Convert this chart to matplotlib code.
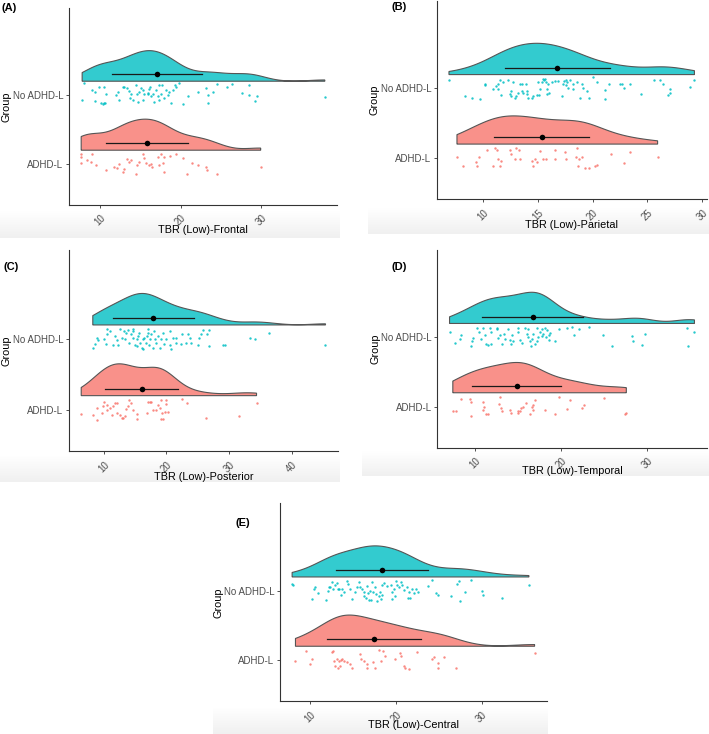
import numpy as np
import matplotlib
matplotlib.use("Agg")
import matplotlib.pyplot as plt
from matplotlib.colors import to_rgba, LinearSegmentedColormap
from matplotlib.ticker import MultipleLocator

plt.rcParams['font.family'] = ['Liberation Sans', 'DejaVu Sans']

groups = ['ADHD-L', 'No ADHD-L']

# (value, vertical jitter)
frontal_no = [(7.99, 0.17), (9.06, 0.07), (9.35, 0.05), (7.82, -0.07), (9.47, -0.09), (9.96, 0.11),
              (10.17, -0.11), (10.38, -0.13), (10.50, -0.12), (10.70, -0.12), (10.58, 0.11), (10.79, 0.01),
              (12.02, 0.0), (12.23, 0.05), (12.43, -0.07), (12.84, 0.12), (13.05, 0.12), (13.34, 0.10),
              (13.67, 0.06), (13.87, 0.02), (13.75, -0.05), (14.08, -0.07), (14.49, 0.14), (14.61, 0.02),
              (14.70, -0.10), (14.90, 0.05), (15.11, 0.10), (15.31, 0.07), (15.40, -0.07), (15.52, 0.02),
              (15.93, 0.03), (16.01, 0.01), (16.14, 0.08), (16.22, 0.12), (16.34, -0.02), (16.55, 0.02),
              (16.75, -0.10), (16.96, 0.07), (17.17, -0.02), (17.29, 0.14), (17.37, -0.07), (17.58, 0.02),
              (17.70, 0.14), (17.99, -0.05), (18.19, 0.07), (18.40, 0.0), (18.61, 0.05), (18.81, -0.12),
              (19.02, 0.07), (19.35, 0.14), (19.43, 0.12), (19.84, 0.17), (20.25, -0.13), (20.87, -0.02),
              (22.10, 0.05), (23.13, 0.10), (23.46, 0.0), (23.46, -0.11), (24.04, 0.05), (24.57, 0.16),
              (25.81, 0.12), (26.42, 0.16), (27.66, 0.03), (28.48, 0.14), (28.48, 0.0), (29.22, -0.09),
              (29.51, -0.02), (37.86, -0.03)]
frontal_adhd = [(7.70, 0.14), (7.70, 0.10), (7.70, 0.02), (8.40, 0.06), (9.05, 0.14), (8.93, 0.03),
                (9.55, -0.02), (10.78, -0.09), (11.81, -0.04), (12.10, -0.06), (12.35, 0.0), (12.92, -0.12),
                (13.05, -0.07), (13.33, 0.07), (13.66, 0.03), (13.91, 0.06), (14.49, -0.14), (14.57, -0.01),
                (14.81, 0.03), (15.39, 0.14), (15.51, 0.08), (15.72, 0.01), (16.05, -0.02), (16.34, 0.0),
                (16.46, -0.04), (17.16, 0.10), (17.28, -0.01), (17.57, 0.14), (17.78, 0.02), (17.98, 0.10),
                (17.98, -0.12), (18.72, 0.12), (19.42, 0.14), (20.25, 0.08), (20.86, -0.14), (21.48, 0.01),
                (22.22, -0.02), (23.13, -0.04), (23.33, -0.09), (24.57, -0.14), (29.92, -0.05)]

parietal_no = [(6.89, 0.12), (8.32, -0.11), (8.99, -0.13), (9.69, -0.15), (10.15, 0.07), (10.21, 0.05),
               (10.92, -0.01), (11.16, 0.04), (11.37, 0.06), (11.37, -0.01), (11.53, 0.12), (11.68, -0.10),
               (11.83, 0.09), (12.29, 0.12), (12.44, -0.08), (12.59, -0.11), (12.75, 0.09), (12.59, -0.03),
               (12.90, -0.13), (13.05, -0.11), (13.21, -0.06), (13.36, 0.07), (13.51, 0.07), (13.51, -0.03),
               (13.66, -0.06), (13.91, 0.06), (13.97, -0.03), (14.03, -0.08), (14.12, -0.13), (14.43, -0.13),
               (14.58, -0.11), (14.88, -0.09), (15.04, 0.09), (15.13, -0.09), (15.19, -0.01), (15.34, 0.09),
               (15.49, 0.14), (15.56, 0.12), (15.65, 0.14), (15.74, 0.09), (15.80, -0.01), (15.86, -0.08),
               (15.95, 0.07), (16.04, -0.06), (16.26, 0.10), (16.56, 0.11), (16.87, 0.11), (17.17, -0.11),
               (17.33, 0.07), (17.39, 0.11), (17.57, 0.12), (17.63, 0.09), (17.57, 0.05), (17.78, 0.01),
               (17.94, 0.12), (18.18, 0.07), (18.24, -0.01), (18.55, 0.09), (18.85, -0.13), (19.00, 0.06),
               (19.16, 0.01), (19.46, -0.04), (19.71, -0.13), (20.07, 0.16), (20.38, 0.09), (21.14, -0.02),
               (21.14, -0.15), (21.45, 0.06), (22.52, 0.06), (22.67, 0.07), (22.82, 0.01), (23.43, 0.07),
               (24.44, -0.08), (25.57, 0.12), (26.18, 0.12), (26.42, 0.07), (27.09, -0.01), (27.03, -0.06),
               (26.88, -0.10), (28.93, 0.02), (29.29, 0.12)]
parietal_adhd = [(7.62, 0.02), (8.17, -0.12), (9.39, -0.06), (9.45, -0.12), (9.63, 0.02), (10.40, 0.11),
                 (10.92, -0.11), (11.07, 0.14), (11.28, 0.11), (11.37, -0.01), (11.53, -0.11), (11.68, -0.04),
                 (12.44, 0.11), (12.59, 0.06), (12.90, -0.01), (13.05, 0.14), (13.30, 0.11), (13.36, -0.02),
                 (14.43, -0.05), (14.52, -0.12), (14.73, -0.02), (14.88, -0.06), (15.19, 0.10), (15.49, -0.02),
                 (15.74, -0.02), (16.56, 0.11), (16.56, -0.02), (17.48, 0.09), (17.57, -0.02), (18.55, 0.14),
                 (18.49, 0.02), (18.79, -0.01), (19.00, 0.01), (18.70, -0.12), (19.31, -0.14), (19.71, -0.15),
                 (20.23, -0.11), (20.38, -0.10), (21.66, 0.06), (22.82, -0.07), (23.43, 0.09), (25.93, 0.01)]

posterior_no = [(8.25, -0.12), (8.62, -0.07), (8.99, 0.01), (9.15, -0.02), (10.05, 0.0), (10.48, 0.07),
                (10.58, 0.14), (11.01, 0.12), (10.37, -0.07), (11.43, -0.09), (11.80, 0.05), (12.06, -0.02),
                (12.33, -0.09), (12.59, 0.14), (12.86, 0.02), (13.23, 0.12), (13.39, 0.0), (13.54, 0.09),
                (13.92, 0.13), (14.07, -0.05), (14.29, 0.07), (14.60, 0.14), (14.71, 0.12), (14.71, 0.02),
                (14.97, -0.08), (15.24, 0.0), (15.34, -0.10), (15.50, 0.05), (15.66, 0.09), (15.77, -0.05),
                (16.03, -0.12), (16.19, 0.0), (16.30, -0.14), (16.40, 0.02), (16.72, -0.05), (16.83, 0.05),
                (17.09, 0.09), (17.09, 0.14), (17.25, -0.08), (17.35, 0.0), (17.62, 0.07), (17.88, -0.12),
                (17.99, 0.12), (18.15, 0.0), (18.41, -0.05), (18.68, 0.05), (18.94, -0.13), (19.21, 0.0),
                (19.47, 0.08), (19.58, -0.07), (20.00, 0.0), (20.53, 0.12), (20.63, -0.09), (20.79, -0.14),
                (21.06, 0.01), (21.59, -0.05), (21.59, 0.02), (22.38, -0.07), (22.54, 0.07), (23.17, -0.06),
                (23.44, 0.07), (23.81, 0.01), (23.97, -0.05), (25.03, -0.09), (25.19, 0.02), (25.56, 0.07),
                (25.82, 0.13), (26.46, 0.07), (26.77, 0.13), (26.88, -0.10), (29.10, -0.08), (29.42, -0.08),
                (33.33, 0.02), (34.18, 0.0), (36.40, 0.08), (45.40, -0.08)]
posterior_adhd = [(6.40, -0.06), (8.36, -0.08), (8.89, 0.02), (8.89, -0.14), (9.68, -0.04), (9.95, 0.06),
                  (10.05, 0.11), (10.48, -0.01), (10.58, 0.07), (11.01, 0.03), (11.27, -0.08), (11.53, 0.06),
                  (11.80, 0.09), (12.06, 0.09), (12.17, -0.04), (12.59, -0.08), (12.86, -0.12), (13.12, -0.12),
                  (13.39, -0.09), (13.54, 0.01), (13.92, 0.06), (14.07, 0.14), (14.29, 0.09), (14.60, 0.0),
                  (15.24, -0.06), (15.34, -0.13), (16.83, -0.04), (17.09, 0.11), (17.35, 0.11), (17.62, 0.11),
                  (17.88, 0.0), (18.41, 0.0), (18.68, 0.07), (18.94, 0.03), (19.21, 0.14), (19.37, -0.05),
                  (19.21, -0.13), (19.47, -0.13), (19.74, -0.03), (20.00, 0.14), (20.26, -0.03), (20.00, 0.08),
                  (22.54, 0.15), (23.28, 0.09), (26.35, -0.11), (31.64, -0.09), (34.39, 0.10)]

temporal_no = [(7.09, 0.08), (7.67, -0.08), (8.25, -0.03), (8.37, 0.03), (9.61, -0.13), (9.69, -0.06),
               (9.81, -0.01), (10.31, 0.14), (10.47, 0.08), (10.70, -0.03), (10.97, 0.14), (11.17, 0.03),
               (11.36, -0.10), (11.55, -0.11), (11.75, 0.14), (11.94, 0.08), (11.94, -0.09), (12.53, 0.13),
               (12.64, 0.12), (12.72, -0.01), (12.91, 0.03), (13.11, -0.10), (13.42, 0.05), (13.50, -0.03),
               (13.81, 0.12), (14.08, -0.04), (14.20, -0.10), (14.47, -0.06), (14.35, 0.03), (14.97, 0.14),
               (15.05, 0.08), (15.24, -0.04), (15.44, -0.08), (15.83, 0.13), (16.02, 0.05), (16.14, 0.12),
               (16.22, 0.01), (16.41, -0.06), (16.53, -0.13), (16.60, -0.03), (16.80, 0.05), (16.99, -0.09),
               (17.19, 0.13), (17.19, -0.06), (17.38, 0.01), (17.58, 0.08), (17.77, 0.12), (17.85, 0.02),
               (17.96, 0.05), (18.16, 0.14), (18.24, 0.01), (18.35, 0.10), (18.55, 0.03), (18.62, -0.04),
               (18.74, 0.06), (19.25, -0.05), (19.71, 0.12), (20.68, 0.13), (21.27, 0.15), (21.46, 0.03),
               (22.12, 0.12), (23.21, 0.15), (24.84, 0.03), (25.93, -0.13), (28.26, 0.02), (28.34, -0.05),
               (29.74, 0.05), (29.35, -0.11), (34.55, 0.13), (34.67, -0.13), (35.45, 0.08)]
temporal_adhd = [(7.47, -0.06), (7.86, -0.06), (8.45, 0.11), (9.42, 0.11), (9.53, 0.06), (9.61, -0.13),
                 (10.97, 0.07), (11.09, 0.0), (10.97, -0.05), (11.36, -0.11), (11.55, -0.11), (12.91, 0.14),
                 (12.80, 0.04), (13.03, -0.02), (13.11, -0.07), (14.08, -0.05), (14.20, -0.09), (14.97, -0.06),
                 (15.05, -0.09), (15.24, -0.07), (15.36, -0.02), (15.63, 0.0), (15.91, 0.05), (16.41, -0.10),
                 (16.60, 0.0), (16.80, 0.02), (16.99, 0.10), (16.80, -0.05), (18.16, -0.05), (19.32, -0.10),
                 (19.79, 0.14), (20.68, -0.04), (21.07, 0.10), (22.43, -0.02), (22.63, 0.02), (24.96, 0.13),
                 (27.40, -0.10), (27.56, -0.09)]

central_no = [(7.90, 0.10), (8.02, 0.08), (10.23, -0.12), (10.43, 0.02), (10.62, 0.06), (10.89, -0.03),
              (11.90, -0.13), (12.06, 0.0), (12.18, 0.05), (12.29, 0.06), (12.56, 0.12), (12.68, 0.02),
              (12.84, 0.08), (13.15, 0.11), (13.22, 0.03), (13.34, 0.02), (13.54, -0.06), (13.73, 0.02),
              (14.00, -0.02), (14.31, 0.14), (14.39, 0.10), (14.62, 0.02), (14.90, -0.12), (15.17, -0.01),
              (15.48, 0.06), (15.67, 0.12), (15.79, 0.06), (16.06, 0.02), (16.25, -0.07), (16.25, -0.02),
              (16.45, -0.11), (16.57, 0.07), (16.72, -0.03), (16.84, -0.13), (17.03, 0.0), (17.11, -0.13),
              (17.23, 0.12), (17.34, -0.02), (17.50, 0.06), (17.73, -0.05), (17.81, -0.14), (18.00, -0.07),
              (18.12, -0.01), (18.20, -0.12), (18.39, 0.08), (18.39, -0.06), (18.59, 0.11), (18.90, 0.07),
              (19.44, 0.08), (19.56, -0.02), (19.56, -0.12), (19.75, 0.02), (19.83, -0.07), (20.06, 0.14),
              (20.14, 0.08), (20.33, 0.06), (20.53, 0.12), (20.72, 0.08), (20.92, 0.01), (21.23, 0.06),
              (21.38, -0.10), (21.50, -0.02), (21.69, -0.10), (21.89, 0.02), (22.08, -0.03), (22.28, 0.02),
              (22.55, -0.01), (23.75, 0.07), (24.22, 0.15), (24.61, -0.03), (24.88, -0.06), (26.36, -0.07),
              (27.13, 0.10), (27.33, 0.14), (27.44, -0.14), (27.99, -0.02), (28.69, 0.16), (30.05, 0.0),
              (30.16, -0.06), (32.38, -0.10), (35.49, 0.08)]
central_adhd = [(8.29, -0.02), (9.57, 0.13), (9.96, -0.06), (10.23, 0.01), (12.56, 0.12), (12.68, 0.13),
                (12.76, -0.02), (12.95, -0.08), (13.15, 0.01), (13.22, -0.11), (13.34, -0.01), (13.46, -0.08),
                (13.54, 0.0), (13.73, 0.01), (13.92, -0.01), (14.31, -0.03), (14.62, -0.06), (14.90, -0.11),
                (15.79, 0.09), (15.94, 0.02), (16.25, -0.02), (16.57, -0.11), (16.64, -0.06), (17.34, -0.03),
                (17.61, -0.12), (18.00, 0.15), (18.20, -0.02), (18.51, 0.13), (18.78, 0.06), (19.83, 0.01),
                (20.45, 0.10), (20.53, 0.06), (20.92, -0.08), (21.11, -0.11), (21.50, -0.13), (22.47, 0.12),
                (24.22, 0.02), (24.41, 0.05), (24.88, -0.04), (24.88, -0.11), (25.58, 0.04), (26.94, -0.12),
                (36.15, 0.10)]

# mean and SD of each group, in panel order A..E
mean_no = [17.04, 16.78, 17.94, 16.72, 18.39]
sd_no = [5.58, 4.78, 6.40, 5.83, 5.38]
mean_adhd = [15.84, 15.34, 16.03, 14.86, 17.42]
sd_adhd = [5.09, 4.37, 5.88, 5.17, 5.48]

xlabels = ['TBR (Low)-Frontal', 'TBR (Low)-Parietal', 'TBR (Low)-Posterior',
           'TBR (Low)-Temporal', 'TBR (Low)-Central']
letters = ['(A)', '(B)', '(C)', '(D)', '(E)']

W, H = 709, 734
CYAN, RED = '#00BFC4', '#F8766D'

fig = plt.figure(figsize=(W / 100, H / 100), dpi=100)

# layout in pixels: axes (left, top, right, bottom), letter pos, xlabel offset, grey band, tick step
panels = [
    ((69, 8.1, 337, 204.7), (2, 8), 25, (0, 211, 340, 238), 10),
    ((436.7, 0.9, 706.7, 199), (392, 7), 26, (368, 208, 709, 234), 5),
    ((69, 250, 337.7, 451.5), (3, 266.7), 25.5, (0, 456, 340, 482), 10),
    ((437.3, 250, 706.7, 447.5), (392, 266.7), 23, (362, 451, 709, 476), 10),
    ((280, 503.5, 546.7, 701), (236, 522.7), 24, (213, 708, 548, 734), 10),
]
data_no = [frontal_no, parietal_no, posterior_no, temporal_no, central_no]
data_adhd = [frontal_adhd, parietal_adhd, posterior_adhd, temporal_adhd, central_adhd]

shade = LinearSegmentedColormap.from_list('shade', ['#ffffff', '#f0f0f0'])


def density(v, n=512):
    # gaussian kde, nrd0 bandwidth, trimmed to the data range (like ggplot)
    v = np.asarray(v)
    sd = v.std(ddof=1)
    q75, q25 = np.percentile(v, [75, 25])
    bw = 0.9 * min(sd, (q75 - q25) / 1.34) * len(v) ** -0.2
    grid = np.linspace(v.min(), v.max(), n)
    d = np.exp(-0.5 * ((grid[:, None] - v[None, :]) / bw) ** 2).sum(1)
    return grid, d / (len(v) * bw * np.sqrt(2 * np.pi))


for i, (rect, lpos, xoff, band, step) in enumerate(panels):
    # faint grey shading behind the x labels
    x0, y0, x1, y1 = band
    bax = fig.add_axes([x0 / W, 1 - y1 / H, (x1 - x0) / W, (y1 - y0) / H], zorder=-5)
    bax.imshow(np.linspace(0, 1, 50)[:, None], aspect='auto', cmap=shade, vmin=0, vmax=1)
    bax.axis('off')

    l, t, r, b = rect
    ax = fig.add_axes([l / W, 1 - b / H, (r - l) / W, (b - t) / H])
    ax.patch.set_alpha(0)

    sets = [(1, np.array(data_adhd[i]), RED, mean_adhd[i], sd_adhd[i]),
            (2, np.array(data_no[i]), CYAN, mean_no[i], sd_no[i])]
    curves = [density(s[1][:, 0]) for s in sets]
    scale = 0.45 / max(c[1].max() for c in curves)

    for (pos, pts, col, m, s), (grid, d) in zip(sets, curves):
        base = pos + 0.2
        xs = np.r_[grid, grid[::-1]]
        ys = np.r_[base + d * scale, np.full(len(grid), base)]
        ax.fill(xs, ys, fc=to_rgba(col, 0.8), ec='#555555', lw=0.8, zorder=2)
        ax.scatter(pts[:, 0], pos + pts[:, 1], s=3, color=col, lw=0, alpha=0.85, zorder=3)
        ax.plot([m - s, m + s], [pos + 0.3, pos + 0.3], color='#1a1a1a', lw=0.9, zorder=4)
        ax.scatter([m], [pos + 0.3], s=16, color='black', lw=0, zorder=5)

    allx = np.r_[sets[0][1][:, 0], sets[1][1][:, 0]]
    pad = 0.05 * (allx.max() - allx.min())
    ax.set_xlim(allx.min() - pad, allx.max() + pad)
    ax.set_ylim(0.41, 3.26)
    ax.xaxis.set_major_locator(MultipleLocator(step))
    ax.set_yticks([1, 2])
    ax.set_yticklabels(groups)

    for side in ['top', 'right']:
        ax.spines[side].set_visible(False)
    for side in ['left', 'bottom']:
        ax.spines[side].set_color('#333333')
        ax.spines[side].set_linewidth(0.8)
    ax.tick_params(length=2.5, width=0.6, color='#333333', labelsize=7, labelcolor='#4d4d4d')
    ax.tick_params(axis='x', pad=3.5)
    ax.tick_params(axis='y', pad=1.5)
    for lab in ax.get_xticklabels():
        lab.set_rotation(45)
        lab.set_ha('center')

    wpx, hpx = r - l, b - t
    ax.text(0.5, -xoff / hpx, xlabels[i], transform=ax.transAxes, ha='center', va='center', fontsize=7.8)
    ax.text(-62 / wpx, 0.5, 'Group', transform=ax.transAxes, rotation=90, ha='center', va='center',
            fontsize=7.8)
    fig.text(lpos[0] / W, 1 - lpos[1] / H, letters[i], fontweight='bold', fontsize=8, ha='left', va='center')

fig.savefig('out.png', dpi=100)
